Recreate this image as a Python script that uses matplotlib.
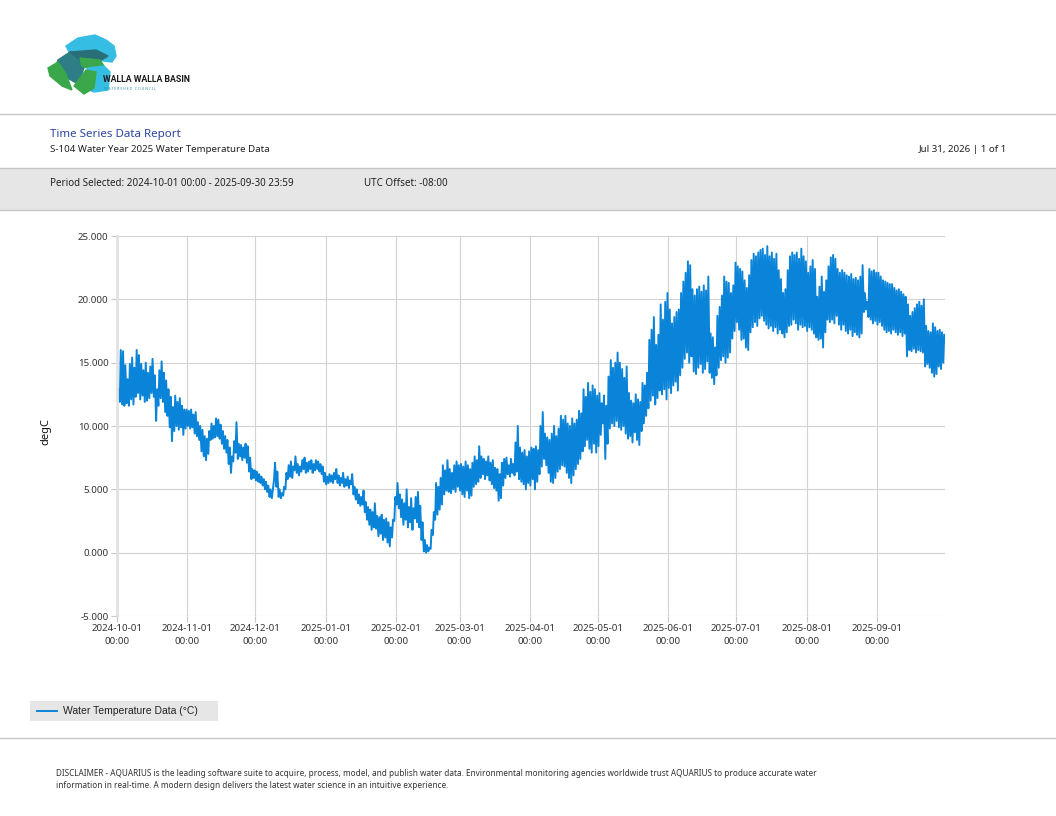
import numpy as np
import pandas as pd
import matplotlib
matplotlib.use("Agg")
import matplotlib.pyplot as plt
import matplotlib.dates as mdates
from matplotlib.patches import Rectangle, Polygon
from matplotlib.lines import Line2D

# Daily low / high water temperature (degC), month by month
low_oct = [12.2, 11.9, 11.7, 11.6, 11.8, 11.6, 12.1, 11.7, 12.3, 12.6, 12.1, 12.4, 11.9, 12.0, 12.2, 12.6,
           12.3, 10.4, 11.6, 12.2, 11.9, 11.1, 10.8, 9.9, 8.8, 9.6, 10.0, 9.7, 9.9, 9.3, 9.8]
high_oct = [12.9, 16.0, 15.9, 14.8, 13.7, 14.9, 15.4, 14.6, 16.0, 15.6, 14.9, 14.4, 15.0, 14.2, 14.7, 15.3,
            14.0, 12.9, 14.4, 15.1, 14.2, 13.6, 12.9, 12.3, 11.5, 12.4, 11.9, 12.2, 11.6, 11.3, 11.3]
low_nov = [10.0, 9.8, 9.9, 9.4, 9.2, 8.9, 8.0, 7.6, 7.3, 7.8, 8.9, 9.0, 9.1, 9.2, 9.0, 8.6,
           8.2, 7.9, 7.0, 6.3, 7.2, 7.9, 7.4, 7.6, 7.3, 7.5, 7.1, 6.4, 5.8, 5.9]
high_nov = [11.2, 11.3, 10.9, 11.1, 10.3, 10.0, 9.7, 9.2, 9.0, 9.6, 10.2, 10.0, 10.6, 10.5, 10.1, 9.6,
            9.2, 8.9, 8.3, 7.6, 8.8, 10.3, 8.6, 8.5, 8.3, 8.6, 8.4, 7.5, 6.6, 6.5]
low_dec = [5.7, 5.6, 5.5, 5.3, 5.0, 4.8, 4.4, 4.3, 5.8, 5.2, 4.4, 4.3, 4.5, 5.0, 5.8, 6.0,
           5.9, 6.5, 6.3, 6.1, 6.4, 6.6, 6.3, 6.4, 6.6, 6.3, 6.5, 6.6, 6.4, 6.2, 5.6]
high_dec = [6.4, 6.2, 6.0, 5.8, 5.6, 5.3, 5.0, 4.9, 7.1, 6.4, 5.0, 4.7, 5.2, 6.3, 6.9, 7.2,
            6.8, 7.6, 7.0, 6.8, 7.3, 7.5, 7.1, 7.2, 7.3, 7.0, 7.3, 7.2, 7.0, 6.8, 6.3]
low_jan = [5.4, 5.5, 5.6, 5.5, 5.8, 5.5, 5.3, 5.5, 5.2, 5.3, 5.1, 5.4, 4.6, 4.2, 3.9, 3.7,
           3.8, 3.2, 2.6, 2.2, 1.8, 2.0, 1.9, 1.3, 1.5, 1.0, 1.2, 0.8, 0.5, 1.2, 2.5]
high_jan = [6.0, 6.2, 6.1, 6.3, 6.6, 6.1, 5.9, 6.3, 5.8, 6.0, 5.7, 6.2, 5.2, 5.0, 4.6, 4.4,
            4.9, 4.0, 3.6, 3.4, 3.2, 3.9, 2.9, 2.8, 3.0, 2.6, 2.7, 2.4, 2.0, 2.6, 4.4]
low_feb = [3.8, 3.5, 2.8, 2.2, 2.6, 2.0, 2.4, 1.8, 2.7, 2.4, 2.0, 1.0, 0.1, 0.0,
           0.1, 0.3, 1.4, 2.6, 3.0, 3.4, 3.8, 4.6, 4.9, 4.8, 4.7, 5.0, 4.8, 5.2]
high_feb = [5.5, 4.6, 4.2, 3.9, 5.0, 3.6, 4.3, 3.5, 4.4, 4.8, 3.7, 2.4, 1.0, 0.6,
            0.4, 1.8, 3.2, 5.5, 5.2, 5.9, 6.9, 6.5, 7.3, 6.6, 6.3, 6.9, 7.2, 6.9]
low_mar = [4.9, 4.6, 4.4, 4.9, 4.3, 4.5, 5.2, 5.4, 5.6, 5.9, 6.2, 5.8, 6.1, 5.7, 5.4, 5.1,
           4.9, 4.1, 4.3, 5.3, 5.9, 6.2, 6.0, 6.3, 6.1, 6.4, 5.8, 5.6, 5.4, 5.0, 5.5]
high_mar = [7.0, 6.8, 7.2, 6.9, 6.6, 7.1, 7.6, 7.3, 8.4, 7.6, 7.4, 7.2, 7.6, 7.1, 7.3, 6.7,
            6.6, 6.2, 7.1, 7.4, 7.5, 6.9, 7.4, 7.0, 8.7, 10.0, 8.3, 7.9, 8.1, 7.6, 8.0]
low_apr = [5.3, 5.8, 5.0, 5.6, 6.2, 6.8, 7.4, 6.9, 6.3, 5.6, 5.5, 5.9, 6.4, 6.6, 6.9,
           6.8, 6.3, 5.9, 5.5, 6.1, 6.6, 7.0, 7.4, 8.0, 8.4, 8.9, 8.2, 7.9, 8.6, 7.9]
high_apr = [8.3, 8.2, 8.4, 8.1, 10.0, 11.1, 9.4, 9.1, 8.9, 9.4, 10.0, 9.2, 9.8, 10.8, 10.5,
            10.8, 10.2, 10.0, 10.6, 10.2, 10.5, 11.2, 11.0, 12.9, 12.3, 13.4, 12.7, 13.2, 12.9, 12.4]
low_may = [8.4, 9.3, 10.2, 7.4, 8.6, 9.8, 10.2, 10.0, 10.4, 9.9, 9.7, 10.0, 9.4, 9.0, 9.2, 8.7,
           9.5, 8.9, 8.5, 9.6, 10.2, 10.8, 11.4, 12.0, 12.4, 11.7, 12.2, 12.8, 12.5, 12.9, 12.1]
high_may = [12.6, 11.8, 12.4, 11.6, 13.9, 15.2, 14.6, 15.0, 15.8, 15.0, 14.5, 13.8, 14.7, 12.6, 12.0, 11.8,
            12.5, 12.1, 11.9, 13.4, 13.2, 14.2, 16.8, 17.6, 18.6, 16.4, 17.2, 19.6, 18.4, 19.8, 20.5]
low_jun = [13.0, 12.6, 13.2, 13.5, 12.8, 14.0, 14.6, 15.3, 15.8, 15.0, 15.5, 14.3, 14.1, 14.6, 14.9,
           14.2, 14.5, 15.1, 14.2, 13.8, 13.3, 14.0, 14.6, 15.2, 15.5, 15.0, 15.4, 15.8, 16.9, 17.5]
high_jun = [19.2, 18.1, 18.6, 19.0, 19.2, 20.5, 21.4, 22.1, 23.0, 22.7, 20.8, 20.3, 20.8, 21.0, 20.6,
            21.1, 20.7, 21.8, 17.3, 17.0, 16.2, 18.7, 19.4, 20.3, 21.8, 21.4, 21.3, 20.5, 21.1, 22.9]
low_jul = [18.2, 17.6, 16.8, 16.9, 16.2, 16.0, 17.4, 17.8, 18.2, 17.9, 18.5, 18.7, 18.3, 18.0, 17.7, 17.9,
           17.5, 17.8, 17.3, 17.6, 17.3, 17.0, 17.4, 17.9, 18.0, 18.4, 18.1, 17.6, 18.0, 17.8, 17.9]
high_jul = [22.6, 22.4, 22.2, 21.5, 20.9, 21.9, 23.1, 23.6, 23.4, 23.7, 23.9, 24.0, 23.5, 24.2, 23.4, 23.7,
            23.2, 23.6, 22.3, 21.6, 20.5, 20.8, 22.3, 23.4, 23.7, 23.5, 23.7, 23.2, 24.0, 23.4, 23.0]
low_aug = [17.5, 17.8, 17.6, 17.3, 17.0, 16.8, 16.9, 16.2, 17.4, 18.4, 18.2, 18.4, 18.1, 18.7, 18.0, 17.6,
           18.0, 17.5, 17.3, 17.6, 17.1, 17.4, 17.2, 17.0, 17.3, 19.0, 19.2, 18.6, 18.4, 18.1, 18.3]
high_aug = [22.1, 22.6, 23.1, 22.4, 20.2, 21.0, 21.8, 20.6, 21.5, 22.6, 23.3, 23.5, 23.2, 22.4, 22.1, 22.3,
            22.1, 21.9, 21.8, 22.0, 21.6, 21.7, 21.5, 21.8, 22.7, 20.5, 19.8, 22.4, 22.2, 22.3, 22.1]
low_sep = [18.0, 18.2, 17.9, 17.6, 17.4, 17.5, 17.3, 17.6, 17.4, 17.2, 17.4, 17.1, 17.3, 15.5, 16.0,
           15.9, 16.1, 15.8, 16.0, 15.9, 15.8, 14.7, 14.9, 14.6, 14.2, 13.9, 14.1, 14.7, 14.5, 15.0]
high_sep = [22.1, 21.8, 21.5, 21.4, 21.3, 21.2, 21.2, 20.9, 20.7, 20.8, 20.6, 20.4, 20.2, 19.6, 18.7,
            19.0, 19.3, 19.6, 19.8, 19.5, 20.0, 17.9, 17.5, 17.4, 18.1, 17.8, 17.5, 17.6, 17.4, 17.2]

daily_low = (low_oct + low_nov + low_dec + low_jan + low_feb + low_mar
             + low_apr + low_may + low_jun + low_jul + low_aug + low_sep)
daily_high = (high_oct + high_nov + high_dec + high_jan + high_feb + high_mar
              + high_apr + high_may + high_jun + high_jul + high_aug + high_sep)

days = pd.date_range("2024-10-01", periods=len(daily_low), freq="D")
# morning minimum, afternoon maximum
t = np.empty(2 * len(days), dtype="datetime64[ns]")
t[0::2] = (days + pd.Timedelta(hours=6)).values
t[1::2] = (days + pd.Timedelta(hours=16)).values
temp = np.empty(2 * len(days))
temp[0::2] = daily_low
temp[1::2] = daily_high

W, H = 1056, 816
fx = lambda px: px / W
fy = lambda py: 1 - py / H

BLUE = "#0a84d8"
GRAY_LINE = "#c6c6c6"
BAND = "#e6e6e6"
plt.rcParams["font.family"] = ["Noto Sans", "DejaVu Sans"]

fig = plt.figure(figsize=(W / 100, H / 100), dpi=100)

# ---- header ----
fig.add_artist(Line2D([0, 1], [fy(114), fy(114)], color=GRAY_LINE, lw=1))
fig.text(fx(50), fy(135), "Time Series Data Report", color="#2a45a0", fontsize=8.3, va="center")
fig.text(fx(50), fy(150), "S-104 Water Year 2025 Water Temperature Data", color="#222222",
         fontsize=7.0, va="center")
fig.text(fx(1007), fy(150), "Jul 31, 2026 | 1 of 1", color="#222222", fontsize=7.0,
         va="center", ha="right")
fig.add_artist(Rectangle((0, fy(210)), 1, fy(168) - fy(210), facecolor=BAND, edgecolor="none"))
fig.add_artist(Line2D([0, 1], [fy(168), fy(168)], color=GRAY_LINE, lw=1))
fig.add_artist(Line2D([0, 1], [fy(210), fy(210)], color=GRAY_LINE, lw=1))
fig.text(fx(50), fy(183), "Period Selected: 2024-10-01 00:00 - 2025-09-30 23:59",
         color="#222222", fontsize=7.1, va="center")
fig.text(fx(364), fy(183), "UTC Offset: -08:00", color="#222222", fontsize=7.1, va="center")

# ---- logo (approximation) ----
lax = fig.add_axes([fx(45), fy(98), fx(160), fy(30) - fy(98)])
lax.set_xlim(45, 205)
lax.set_ylim(98, 30)
lax.axis("off")
lax.add_patch(Polygon([(66, 46), (78, 38), (95, 35), (106, 40), (114, 46), (116, 56), (112, 62),
                       (96, 60), (80, 56), (70, 54)], color="#36bde4"))
lax.add_patch(Polygon([(58, 60), (70, 52), (86, 54), (84, 68), (78, 84), (64, 76), (56, 66)],
                      color="#2d7e87"))
lax.add_patch(Polygon([(70, 52), (96, 50), (108, 56), (98, 62), (80, 60)], color="#2a6e78"))
lax.add_patch(Polygon([(48, 68), (58, 62), (66, 74), (72, 90), (62, 86), (50, 76)], color="#3aa84a"))
lax.add_patch(Polygon([(80, 58), (100, 60), (104, 66), (92, 70), (82, 66)], color="#3aa84a"))
lax.add_patch(Polygon([(88, 68), (104, 66), (110, 72), (108, 90), (94, 92), (84, 88)], color="#36bde4"))
lax.add_patch(Polygon([(74, 86), (86, 70), (96, 72), (94, 88), (84, 94)], color="#3aa84a"))
lax.text(103, 80, "WALLA WALLA BASIN", fontsize=6.3, fontweight="bold", color="#1a1a1a",
         va="center", ha="left", family="Roboto", fontstretch="condensed")
lax.text(104, 89, "W A T E R S H E D   C O U N C I L", fontsize=2.6, color="#2d8fb0",
         va="center", ha="left")

# ---- chart ----
ax = fig.add_axes([fx(117), fy(616), fx(945) - fx(117), fy(236) - fy(616)])
line, = ax.plot(t, temp, color=BLUE, lw=1.4, label="Water Temperature Data (°C)")
ax.set_xlim(pd.Timestamp("2024-10-01"), pd.Timestamp("2025-10-01"))
ax.set_ylim(-5, 25)
ax.set_yticks(np.arange(-5, 26, 5))
ax.yaxis.set_major_formatter(matplotlib.ticker.FormatStrFormatter("%.3f"))
ax.set_xticks(pd.date_range("2024-10-01", "2025-09-01", freq="MS"))
ax.xaxis.set_major_formatter(mdates.DateFormatter("%Y-%m-%d\n%H:%M"))
ax.grid(True, color="#d2d2d2", lw=0.8)
ax.set_axisbelow(True)
for s in ["top", "right", "bottom"]:
    ax.spines[s].set_visible(False)
ax.spines["left"].set_color("#e2e2e2")
ax.spines["left"].set_linewidth(2)
ax.tick_params(axis="both", length=4, color="#c8c8c8", labelsize=7.0, labelcolor="#333333", pad=2)
for lbl in ax.get_xticklabels():
    lbl.set_linespacing(1.5)
fig.text(fx(46), fy(432), "degC", rotation=90, fontsize=8, va="center", ha="center", color="#111111")

# ---- legend ----
fig.add_artist(Rectangle((fx(30), fy(721)), fx(218) - fx(30), fy(701) - fy(721),
                         facecolor=BAND, edgecolor="none"))
fig.add_artist(Line2D([fx(37), fx(57)], [fy(711), fy(711)], color=BLUE, lw=1.4))
fig.text(fx(63), fy(711), line.get_label(), fontsize=7.5, va="center", color="#222222",
         family="Liberation Sans")

# ---- footer ----
fig.add_artist(Line2D([0, 1], [fy(738), fy(738)], color=GRAY_LINE, lw=1))
fig.text(fx(56), fy(774), "DISCLAIMER - AQUARIUS is the leading software suite to acquire, process, model, and "
         "publish water data. Environmental monitoring agencies worldwide trust AQUARIUS to produce accurate water",
         fontsize=5.9, va="center", color="#333333")
fig.text(fx(56), fy(785), "information in real-time. A modern design delivers the latest water science in an "
         "intuitive experience.", fontsize=5.9, va="center", color="#333333")

fig.savefig("out.png", dpi=100)
